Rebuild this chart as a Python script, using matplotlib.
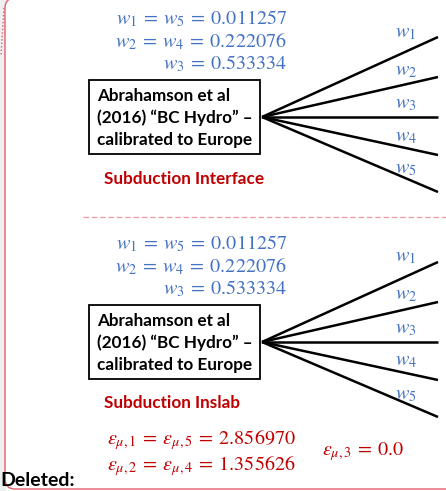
import numpy as np
import matplotlib.pyplot as plt
from matplotlib.patches import FancyBboxPatch, Rectangle

# logic tree data
weight_lines = [r"$w_1\:=\:w_5\:=\:0.011257$",
                r"$w_2\:=\:w_4\:=\:0.222076$",
                r"$w_3\:=\:0.533334$"]
branch_labels = [r"$w_1$", r"$w_2$", r"$w_3$", r"$w_4$", r"$w_5$"]
branch_ends = [-80, -40, 0, 38, 75]          # end offsets relative to the node
label_pos = [-85, -47, -14, 19, 52]
model_text = "Abrahamson et al\n(2016) \u201cBC Hydro\u201d \u2013\ncalibrated to Europe"
panel_titles = ["Subduction Interface", "Subduction Inslab"]
panel_top = [0, 225]
eps_left = [r"$\varepsilon_{\mu,1}\:=\:\varepsilon_{\mu,5}\:=\:2.856970$",
            r"$\varepsilon_{\mu,2}\:=\:\varepsilon_{\mu,4}\:=\:1.355626$"]
eps_mid = r"$\varepsilon_{\mu,3}\:=\:0.0$"

BLUE = "#4472C4"
RED = "#C00000"

plt.rcParams['mathtext.fontset'] = 'stix'

fig = plt.figure(figsize=(4.46, 4.91), dpi=100)
ax = fig.add_axes([0, 0, 1, 1])
ax.set_xlim(0, 446)
ax.set_ylim(491, 0)
ax.axis('off')

# comment balloon edge on the left
ax.add_patch(Rectangle((0, 0), 5, 491, color="#efefef", zorder=0))
ax.add_patch(FancyBboxPatch((5, -2), 520, 491, boxstyle="round,pad=0,rounding_size=10",
                            fc="white", ec="#e06070", lw=1.0, zorder=1))
ax.plot([4, 1], [8, 55], ls=(0, (1, 1.5)), color="#e06070", lw=1.0, zorder=2)

for k, top in enumerate(panel_top):
    # weight equations
    for i, s in enumerate(weight_lines):
        ax.text(287, top + 19 + 22.5 * i, s, color=BLUE, fontsize=14.5,
                ha='right', va='center', zorder=3)
    # model box
    bx, by, bw, bh = 89, top + 80, 171, 74
    ax.add_patch(Rectangle((bx, by), bw, bh, fc="white", ec="black", lw=1.3, zorder=3))
    ax.text(bx + 8, by + bh / 2 + 1, model_text, fontsize=12.3, fontweight='bold',
            family='Lato', ha='left', va='center', linespacing=1.42, zorder=4)
    # branches
    nx, ny = 262, top + 117
    for j, dy in enumerate(branch_ends):
        ax.plot([nx, 438], [ny, ny + dy], color="black", lw=1.8,
                solid_capstyle='butt', zorder=3)
        ax.text(406, ny + label_pos[j], branch_labels[j], color=BLUE, fontsize=14.5,
                ha='center', va='center', zorder=4)
    ax.text(104, top + 179 - k, panel_titles[k], color=RED,
            fontsize=12.3, fontweight='bold', family='Lato', ha='left', va='center', zorder=3)

# separator
ax.plot([83, 446], [217, 217], color="#eba0aa", lw=1.0, ls=(0, (4, 2)), zorder=2)

# epsilon values
for i, s in enumerate(eps_left):
    ax.text(296, 440 + 26 * i, s, color=RED, fontsize=14.5, ha='right', va='center', zorder=3)
ax.text(322, 452, eps_mid, color=RED, fontsize=14.5, ha='left', va='center', zorder=3)

ax.text(0, 480, "Deleted:", fontsize=14, fontweight='bold', family='Lato',
        ha='left', va='center', zorder=3)

fig.savefig("out.png", dpi=100)
